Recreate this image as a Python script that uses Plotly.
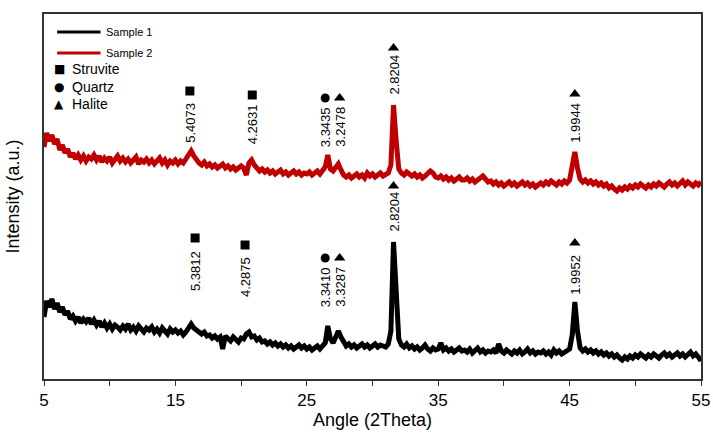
import numpy as np
import plotly.graph_objects as go

# 2theta scan, 0.2 deg step
angle = np.round(np.arange(5, 55.001, 0.2), 1)

# intensities (a.u.), one row per 2 degrees
sample1 = [
    62, 78, 72, 80, 70, 76, 67, 72, 64, 68,
    60, 63, 58, 62, 56, 60, 57, 61, 55, 59,
    54, 58, 52, 56, 51, 55, 50, 54, 52, 49,
    53, 50, 55, 49, 52, 48, 53, 50, 47, 51,
    49, 52, 47, 50, 46, 51, 48, 45, 50, 47,
    49, 46, 48, 44, 47, 52, 55, 51, 49, 46,
    45, 47, 43, 44, 41, 43, 40, 42, 30, 43,
    41, 38, 42, 39, 37, 41, 40, 45, 47, 42,
    43, 39, 41, 37, 38, 35, 37, 34, 36, 33,
    35, 32, 34, 31, 33, 30, 32, 34, 31, 33,
    30, 32, 29, 31, 33, 30, 34, 36, 53, 40,
    36, 44, 48, 42, 36, 33, 35, 32, 34, 31,
    33, 35, 32, 34, 31, 33, 35, 32, 34, 33,
    32, 35, 48, 137, 80, 40, 34, 32, 35, 31,
    33, 30, 32, 29, 31, 34, 30, 28, 31, 29,
    30, 36, 29, 31, 28, 30, 27, 29, 31, 28,
    29, 27, 30, 26, 28, 31, 27, 29, 26, 28,
    27, 29, 26, 35, 28, 26, 29, 27, 25, 28,
    26, 29, 25, 27, 30, 26, 28, 25, 27, 26,
    28, 25, 27, 24, 29, 26, 28, 25, 27, 29,
    30, 44, 77, 48, 31, 28, 30, 27, 29, 26,
    28, 25, 27, 24, 26, 23, 25, 22, 24, 21,
    19, 22, 20, 23, 21, 24, 22, 25, 23, 21,
    24, 22, 25, 23, 21, 24, 26, 23, 25, 22,
    24, 26, 23, 25, 22, 24, 27, 23, 25, 22,
    18,
]

sample2 = [
    232, 246, 238, 244, 235, 240, 229, 234, 226, 230,
    222, 226, 220, 224, 219, 223, 218, 222, 220, 224,
    219, 223, 217, 221, 218, 222, 216, 220, 223, 218,
    221, 217, 220, 216, 219, 222, 215, 219, 217, 220,
    216, 219, 215, 218, 221, 216, 219, 214, 218, 216,
    219, 215, 218, 216, 220, 224, 228, 223, 219, 216,
    214, 217, 213, 215, 212, 214, 211, 213, 215, 211,
    213, 210, 212, 209, 211, 213, 211, 204, 216, 219,
    214, 211, 208, 210, 207, 209, 206, 208, 205, 207,
    209, 205, 207, 204, 206, 208, 205, 207, 204, 206,
    205, 207, 204, 206, 208, 205, 209, 212, 224, 210,
    208, 211, 215, 209, 204, 202, 204, 201, 203, 205,
    202, 204, 201, 206, 203, 205, 202, 204, 206, 203,
    204, 206, 214, 274, 238, 210, 206, 204, 207, 205,
    203, 205, 202, 204, 201, 203, 205, 208, 206, 202,
    201, 203, 200, 202, 199, 201, 198, 200, 202, 199,
    199, 201, 198, 200, 197, 199, 201, 203, 200, 197,
    198, 195, 197, 194, 196, 193, 195, 197, 194, 196,
    193, 195, 197, 194, 196, 193, 195, 192, 194, 196,
    194, 197, 195, 198, 196, 194, 197, 195, 198, 196,
    199, 214, 227, 211, 200, 197, 199, 196, 198, 195,
    197, 194, 196, 193, 195, 191, 193, 190, 188, 191,
    189, 192, 190, 193, 191, 194, 192, 195, 193, 191,
    194, 192, 195, 193, 196, 194, 192, 195, 197, 194,
    196, 193, 195, 198, 194, 197, 195, 193, 196, 194,
    197,
]
assert len(sample1) == len(angle) == len(sample2)

# peak labels: d-spacing and phase
s2_angle = [16.1, 20.85, 26.4, 27.5, 31.6, 45.4]
s2_d = ["5.4073", "4.2631", "3.3435", "3.2478", "2.8204", "1.9944"]
s2_phase = ["Struvite", "Struvite", "Quartz", "Halite", "Halite", "Halite"]

s1_angle = [16.5, 20.3, 26.4, 27.5, 31.6, 45.4]
s1_d = ["5.3812", "4.2875", "3.3410", "3.3287", "2.8204", "1.9952"]
s1_phase = ["Struvite", "Struvite", "Quartz", "Halite", "Halite", "Halite"]

# where the labels sit (text centre, symbol) in intensity units
s2_text_y = [256, 255, 252, 252, 304, 256]
s2_mark_y = [288, 284, 281, 281, 331, 285]
s1_text_y = [108, 102, 92, 92, 167, 104]
s1_mark_y = [141, 134, 121, 121, 193, 136]

FONT = "Liberation Sans, Arial, sans-serif"
RED = "#c00000"
symbols = {"Struvite": "square", "Quartz": "circle", "Halite": "triangle-up"}

fig = go.Figure()

fig.add_trace(go.Scatter(x=angle, y=sample1, mode="lines", name="Sample 1",
                         line=dict(color="black", width=5)))
fig.add_trace(go.Scatter(x=angle, y=sample2, mode="lines", name="Sample 2",
                         line=dict(color=RED, width=5)))

# phase symbols above the peaks
for phase, sym in symbols.items():
    xs = [a for a, p in zip(s2_angle, s2_phase) if p == phase] + \
         [a for a, p in zip(s1_angle, s1_phase) if p == phase]
    ys = [m for m, p in zip(s2_mark_y, s2_phase) if p == phase] + \
         [m for m, p in zip(s1_mark_y, s1_phase) if p == phase]
    fig.add_trace(go.Scatter(x=xs, y=ys, mode="markers", name=phase,
                             marker=dict(symbol=sym, color="black",
                                         size=10 if sym == "triangle-up" else 9)))

# rotated d-spacing labels
for xs, labels, ys in [(s2_angle, s2_d, s2_text_y), (s1_angle, s1_d, s1_text_y)]:
    for a, lab, yy in zip(xs, labels, ys):
        fig.add_annotation(x=a, y=yy, text=lab, textangle=-90, showarrow=False,
                           font=dict(family=FONT, size=13, color="black"))

# hand-made legend, top left
fig.add_shape(type="line", x0=6.0, x1=9.3, y0=347, y1=347, line=dict(color="black", width=3))
fig.add_shape(type="line", x0=6.0, x1=9.3, y0=326, y1=326, line=dict(color=RED, width=3))
fig.add_annotation(x=9.55, y=347, text="Sample 1", showarrow=False, xanchor="left",
                   font=dict(family=FONT, size=11, color="black"))
fig.add_annotation(x=9.55, y=326, text="Sample 2", showarrow=False, xanchor="left",
                   font=dict(family=FONT, size=11, color="black"))
for yy, glyph, name in [(310, "■", "Struvite"), (292, "●", "Quartz"), (275, "▲", "Halite")]:
    fig.add_annotation(x=6.15, y=yy, text=glyph, showarrow=False,
                       font=dict(family="DejaVu Sans", size=12, color="black"))
    fig.add_annotation(x=6.95, y=yy, text=name, showarrow=False, xanchor="left",
                       font=dict(family=FONT, size=14, color="black"))

fig.update_layout(
    width=713, height=434,
    margin=dict(l=44, r=12, t=14, b=55),
    plot_bgcolor="white", paper_bgcolor="white",
    showlegend=False,
    font=dict(family=FONT, color="black"),
)
fig.update_xaxes(
    range=[5, 55], tick0=5, dtick=10, ticks="outside", ticklen=5, tickcolor="#333",
    minor=dict(dtick=5, tick0=5, ticks="outside", ticklen=5, tickcolor="#333"),
    showline=True, linecolor="#333", linewidth=1.5, mirror=True, showgrid=False,
    zeroline=False, tickfont=dict(size=17), automargin=False,
    title=dict(text="Angle (2Theta)", font=dict(size=18), standoff=4),
)
fig.update_yaxes(
    range=[0, 365], showticklabels=False, ticks="", showline=True, linecolor="#333",
    linewidth=1.5, mirror=True, showgrid=False, zeroline=False, automargin=False,
    title=dict(text="Intensity (a.u.)", font=dict(size=18), standoff=18),
)

# drop the default page margin so the 713x434 figure fills the window
fig.write_html("out.html", config={"displayModeBar": False},
               post_script="document.body.style.margin='0';")
